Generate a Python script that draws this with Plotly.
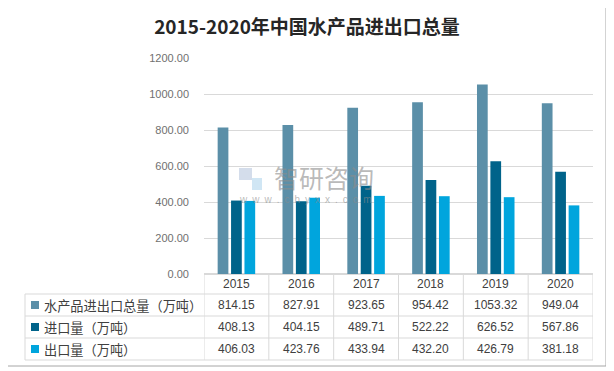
import plotly.graph_objects as go

years = ["2015", "2016", "2017", "2018", "2019", "2020"]
series_names = ["水产品进出口总量（万吨）", "进口量（万吨）", "出口量（万吨）"]
total = [814.15, 827.91, 923.65, 954.42, 1053.32, 949.04]
imports = [408.13, 404.15, 489.71, 522.22, 626.52, 567.86]
exports = [406.03, 423.76, 433.94, 432.20, 426.79, 381.18]
colors = ["#5B8FA8", "#00638A", "#00A5DD"]
series_values = [total, imports, exports]

# page body has an 8px default margin: compensate
OFF = 8
W, H = 614 - OFF, 371 - OFF
L, R, T, B = 204, 593, 58, 274   # reference pixel coordinates of plot area
pw, ph = R - L, B - T

def px(xp):
    return (xp - L) / pw

def py(yp):
    return (B - yp) / ph

fig = go.Figure()
for name, vals, col in zip(series_names, series_values, colors):
    fig.add_trace(go.Bar(x=years, y=vals, name=name, marker=dict(color=col, line=dict(width=0))))

grid = "#D9D9D9"
shapes = []
annotations = []

# table lines
row_lines = [294, 316, 338, 360]
for yl in row_lines:
    shapes.append(dict(type="line", xref="paper", yref="paper", x0=px(25), x1=1, y0=py(yl), y1=py(yl),
                       line=dict(color=grid, width=1)))
shapes.append(dict(type="line", xref="paper", yref="paper", x0=px(25), x1=px(25), y0=py(294), y1=py(360),
                   line=dict(color=grid, width=1)))
for i in range(len(years) + 1):
    shapes.append(dict(type="line", xref="x", yref="paper", x0=i - 0.5, x1=i - 0.5, y0=0, y1=py(360),
                       line=dict(color=grid, width=1)))

# outer border
shapes.append(dict(type="rect", xref="paper", yref="paper", x0=px(3.5), x1=px(606), y0=py(6.5), y1=py(366),
                   line=dict(color="#A6A6A6", width=1), layer="below"))

row_centers = [305, 327, 349]
for name, vals, col, yc in zip(series_names, series_values, colors, row_centers):
    shapes.append(dict(type="rect", xref="paper", yref="paper", x0=px(31), x1=px(39), y0=py(yc + 4), y1=py(yc - 4),
                       fillcolor=col, line=dict(width=0)))
    annotations.append(dict(text=name, xref="paper", yref="paper", x=px(41.5), y=py(yc), xanchor="left",
                            yanchor="middle", showarrow=False,
                            font=dict(family="Noto Sans CJK SC", size=13.2, color="#404040")))
    for i, v in enumerate(vals):
        annotations.append(dict(text=f"{v:.2f}", xref="x", yref="paper", x=i, y=py(yc), xanchor="center",
                                yanchor="middle", showarrow=False,
                                font=dict(family="Liberation Sans", size=12, color="#404040")))

for i, yr in enumerate(years):
    annotations.append(dict(text=yr, xref="x", yref="paper", x=i, y=py(284), xanchor="center",
                            yanchor="middle", showarrow=False,
                            font=dict(family="Liberation Sans", size=12, color="#404040")))

# watermark
annotations.append(dict(text="智研咨询", xref="paper", yref="paper", x=px(324), y=py(177), xanchor="center",
                        yanchor="middle", showarrow=False,
                        font=dict(family="Noto Sans CJK SC", size=25, color="rgba(140,140,140,0.6)")))
annotations.append(dict(text="\u2002".join("www.chyxx.com"), xref="paper", yref="paper", x=px(305), y=py(199),
                        xanchor="center", yanchor="middle", showarrow=False,
                        font=dict(family="Liberation Sans", size=10, color="rgba(140,140,140,0.6)")))
shapes.append(dict(type="rect", xref="paper", yref="paper", x0=px(239), x1=px(252), y0=py(168), y1=py(180),
                   fillcolor="rgba(160,180,210,0.45)", line=dict(width=0)))
shapes.append(dict(type="rect", xref="paper", yref="paper", x0=px(252), x1=px(262), y0=py(178), y1=py(190),
                   fillcolor="rgba(150,200,230,0.45)", line=dict(width=0)))

fig.update_layout(
    width=W, height=H,
    margin=dict(l=L - OFF, r=(614 - R), t=T - OFF, b=(371 - B)),
    paper_bgcolor="white", plot_bgcolor="white",
    barmode="group", bargap=0.38, bargroupgap=0.2,
    showlegend=False,
    title=dict(text="<b>2015-2020年中国水产品进出口总量</b>", x=(307 - OFF) / W, xanchor="center",
               y=1 - (27 - OFF) / H, yanchor="middle",
               font=dict(family="Noto Sans CJK SC", size=19, color="#262626")),
    xaxis=dict(type="category", range=[-0.5, len(years) - 0.5], autorange=False, showticklabels=False,
               showgrid=False, zeroline=False, showline=False, ticks=""),
    yaxis=dict(range=[0, 1200], autorange=False, dtick=200, tickformat=".2f", showgrid=True, gridcolor=grid,
               gridwidth=1, zeroline=True, zerolinecolor=grid, showline=False, ticks="", ticklabelstandoff=14,
               tickfont=dict(family="Liberation Sans", size=11, color="#707070")),
    shapes=shapes, annotations=annotations,
)

fig.write_html("out.html")
